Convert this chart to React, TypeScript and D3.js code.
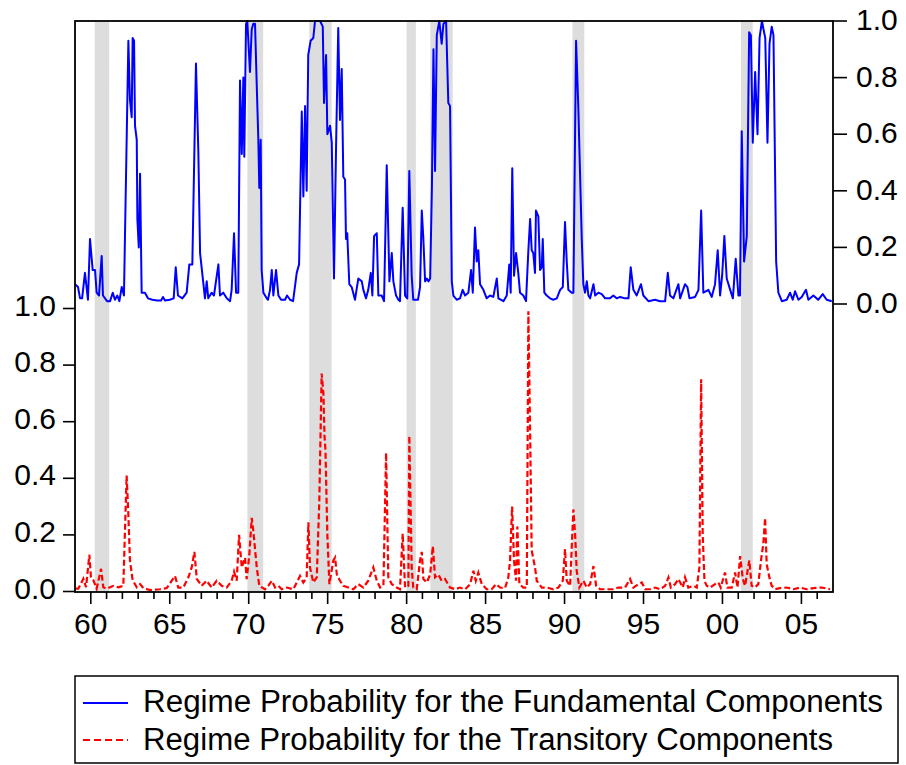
import * as d3 from "d3";

// regime probabilities, [decimal year, probability]
const fundamental: [number, number][] = [
  [1959.0,0.07],[1959.19,0.06],[1959.32,0.02],[1959.45,0.02],[1959.63,0.11],[1959.82,0.015],[1959.95,0.23],[1960.12,0.12],[1960.27,0.12],[1960.37,0.04],[1960.52,0.03],[1960.69,0.17],[1960.77,0.03],[1961.03,0.01],[1961.22,0.01],[1961.39,0.04],[1961.53,0.015],[1961.68,0.03],[1961.81,0.01],[1961.96,0.06],[1962.10,0.03],
  [1962.38,0.93],[1962.48,0.72],[1962.59,0.66],[1962.65,0.94],[1962.74,0.93],[1962.80,0.63],[1962.91,0.58],[1962.95,0.30],[1963.04,0.20],[1963.12,0.46],[1963.22,0.04],[1963.43,0.04],[1963.62,0.02],[1963.9,0.015],[1964.2,0.012],[1964.45,0.012],[1964.57,0.025],[1964.7,0.012],[1965.0,0.015],[1965.25,0.02],[1965.38,0.13],[1965.52,0.03],[1965.8,0.02],[1966.07,0.04],[1966.24,0.14],[1966.43,0.14],[1966.66,0.85],[1966.81,0.54],[1966.92,0.18],[1967.23,0.02],[1967.34,0.08],[1967.44,0.02],[1967.65,0.04],[1967.80,0.03],[1968.08,0.14],[1968.18,0.03],[1968.39,0.04],[1968.61,0.02],[1968.82,0.01],[1968.92,0.05],[1969.07,0.25],[1969.20,0.04],[1969.34,0.04],
  [1969.45,0.79],[1969.56,0.53],[1969.66,0.80],[1969.72,0.52],[1969.83,0.99],[1969.91,1.0],[1970.08,0.82],[1970.19,0.97],[1970.29,0.99],[1970.40,0.99],[1970.51,0.77],[1970.61,0.58],[1970.67,0.41],[1970.76,0.58],[1970.82,0.12],[1970.93,0.04],[1971.14,0.02],[1971.22,0.015],[1971.35,0.05],[1971.46,0.12],[1971.56,0.03],[1971.73,0.12],[1971.88,0.03],[1972.05,0.015],[1972.30,0.015],[1972.43,0.03],[1972.62,0.015],[1972.81,0.01],[1973.04,0.11],[1973.19,0.14],
  [1973.36,0.68],[1973.46,0.38],[1973.57,0.70],[1973.67,0.40],[1973.77,0.88],[1973.92,0.93],[1974.09,0.94],[1974.20,1.0],[1974.52,1.0],[1974.69,0.98],[1974.77,0.71],[1974.90,0.88],[1974.98,0.60],[1975.15,0.63],[1975.26,0.57],[1975.40,0.09],[1975.53,0.55],[1975.67,0.975],[1975.78,0.65],[1975.89,0.83],[1975.99,0.45],[1976.10,0.44],[1976.16,0.23],[1976.24,0.25],[1976.37,0.07],[1976.52,0.06],[1976.73,0.015],[1976.94,0.09],[1977.16,0.08],[1977.26,0.05],[1977.43,0.02],[1977.57,0.05],[1977.73,0.11],[1977.83,0.03],[1977.94,0.24],[1978.11,0.25],[1978.21,0.03],[1978.42,0.03],[1978.57,0.01],[1978.74,0.49],[1978.91,0.08],[1979.06,0.18],[1979.16,0.08],[1979.33,0.03],[1979.48,0.015],[1979.58,0.01],[1979.75,0.34],[1979.90,0.03],[1980.04,0.02],[1980.17,0.47],[1980.32,0.10],[1980.42,0.015],[1980.72,0.015],[1980.85,0.06],[1980.96,0.33],[1981.06,0.23],[1981.17,0.08],[1981.28,0.09],[1981.38,0.08],[1981.49,0.09],
  [1981.60,0.41],[1981.70,0.90],[1981.80,0.47],[1981.91,0.95],[1982.07,1.0],[1982.22,0.92],[1982.33,0.99],[1982.50,1.0],[1982.64,0.71],[1982.75,0.70],[1982.86,0.08],[1982.96,0.03],[1983.17,0.015],[1983.38,0.02],[1983.55,0.05],[1983.70,0.03],[1983.91,0.04],[1984.08,0.12],[1984.19,0.04],[1984.33,0.27],[1984.44,0.15],[1984.54,0.19],[1984.65,0.07],[1984.86,0.05],[1985.07,0.02],[1985.28,0.03],[1985.49,0.025],[1985.71,0.09],[1985.81,0.02],[1986.13,0.01],[1986.34,0.03],[1986.50,0.14],[1986.59,0.04],[1986.69,0.48],[1986.80,0.10],[1986.93,0.18],[1987.07,0.11],[1987.18,0.04],[1987.39,0.03],[1987.56,0.01],[1987.71,0.19],[1987.82,0.30],[1987.92,0.19],[1988.02,0.18],[1988.13,0.11],[1988.19,0.33],[1988.34,0.31],[1988.45,0.12],[1988.56,0.13],[1988.62,0.23],[1988.72,0.04],[1988.87,0.03],[1989.08,0.02],[1989.29,0.015],[1989.51,0.02],[1989.72,0.05],[1989.89,0.06],[1990.03,0.29],[1990.14,0.15],[1990.24,0.05],[1990.45,0.04],[1990.56,0.04],
  [1990.73,0.93],[1990.87,0.70],[1991.09,0.23],[1991.19,0.07],[1991.30,0.04],[1991.41,0.08],[1991.51,0.03],[1991.62,0.02],[1991.83,0.07],[1991.94,0.03],[1992.14,0.04],[1992.36,0.035],[1992.57,0.02],[1992.88,0.02],[1993.09,0.03],[1993.30,0.02],[1993.52,0.025],[1993.83,0.02],[1994.05,0.02],[1994.19,0.13],[1994.36,0.05],[1994.57,0.03],[1994.84,0.07],[1994.99,0.03],[1995.31,0.01],[1995.73,0.015],[1996.05,0.01],[1996.37,0.01],[1996.54,0.11],[1996.68,0.03],[1996.89,0.02],[1997.21,0.07],[1997.32,0.02],[1997.63,0.07],[1997.78,0.06],[1997.91,0.02],[1998.27,0.025],[1998.48,0.05],[1998.65,0.33],[1998.79,0.04],[1999.11,0.05],[1999.32,0.025],[1999.53,0.07],[1999.70,0.19],[1999.85,0.03],[1999.98,0.10],[2000.12,0.24],[2000.27,0.09],[2000.49,0.05],[2000.66,0.02],[2000.84,0.16],[2001.01,0.03],[2001.11,0.03],
  [2001.22,0.61],[2001.37,0.15],[2001.54,0.24],[2001.69,0.96],[2001.80,0.95],[2001.92,0.57],[2002.07,0.82],[2002.22,0.60],[2002.35,0.94],[2002.50,1.0],[2002.60,0.97],[2002.71,0.94],[2002.85,0.57],[2002.98,0.92],[2003.12,0.98],[2003.23,0.95],[2003.40,0.15],[2003.54,0.04],[2003.76,0.01],[2004.07,0.015],[2004.28,0.04],[2004.45,0.015],[2004.60,0.045],[2004.81,0.015],[2005.02,0.025],[2005.29,0.05],[2005.44,0.015],[2005.76,0.03],[2006.06,0.015],[2006.35,0.035],[2006.60,0.015],[2006.92,0.01],
];

const transitory: [number, number][] = [
  [1959.05,0.01],[1959.21,0.01],[1959.53,0.045],[1959.70,0.015],[1959.91,0.13],[1960.01,0.05],[1960.16,0.04],[1960.37,0.01],[1960.65,0.08],[1960.79,0.015],[1961.01,0.01],[1961.22,0.015],[1961.43,0.02],[1961.74,0.015],[1962.06,0.02],[1962.27,0.41],[1962.38,0.27],[1962.48,0.11],[1962.65,0.04],[1962.91,0.015],[1963.12,0.026],[1963.33,0.012],[1963.75,0.005],[1964.38,0.008],[1964.81,0.012],[1965.33,0.055],[1965.54,0.014],[1965.86,0.014],[1966.18,0.05],[1966.39,0.085],[1966.56,0.14],[1966.71,0.045],[1967.02,0.02],[1967.34,0.038],[1967.65,0.014],[1967.97,0.038],[1968.29,0.02],[1968.61,0.014],[1968.92,0.038],[1969.07,0.07],[1969.24,0.038],[1969.39,0.20],[1969.56,0.085],[1969.77,0.12],[1969.87,0.044],[1970.04,0.13],[1970.19,0.26],[1970.29,0.215],[1970.51,0.085],[1970.67,0.02],
  [1971.03,0.008],[1971.24,0.02],[1971.46,0.038],[1971.67,0.014],[1971.88,0.02],[1972.09,0.008],[1972.41,0.014],[1972.83,0.008],[1973.04,0.032],[1973.25,0.055],[1973.46,0.032],[1973.67,0.05],[1973.78,0.245],[1973.88,0.085],[1974.09,0.032],[1974.31,0.05],[1974.47,0.32],[1974.62,0.77],[1974.73,0.70],[1974.80,0.55],[1974.86,0.50],[1974.98,0.20],[1975.11,0.026],[1975.36,0.11],[1975.47,0.12],[1975.58,0.06],[1975.78,0.038],[1975.99,0.02],[1976.31,0.014],[1976.62,0.008],[1976.94,0.026],[1977.26,0.014],[1977.57,0.038],[1977.89,0.085],[1978.11,0.038],[1978.32,0.014],[1978.53,0.02],[1978.70,0.49],[1978.84,0.05],[1979.06,0.026],[1979.37,0.014],[1979.58,0.008],[1979.75,0.205],[1979.90,0.014],[1980.11,0.02],[1980.17,0.55],[1980.32,0.085],[1980.42,0.014],[1980.64,0.008],[1980.85,0.11],[1980.96,0.14],[1981.06,0.044],[1981.28,0.032],[1981.49,0.06],[1981.66,0.16],[1981.80,0.05],[1982.01,0.06],[1982.22,0.038],[1982.43,0.044],[1982.75,0.014],
  [1983.07,0.008],[1983.38,0.014],[1983.70,0.008],[1984.02,0.026],[1984.23,0.073],[1984.38,0.038],[1984.54,0.067],[1984.76,0.026],[1985.07,0.008],[1985.39,0.008],[1985.66,0.026],[1985.92,0.014],[1986.23,0.012],[1986.44,0.05],[1986.55,0.11],[1986.68,0.30],[1986.80,0.11],[1986.93,0.038],[1987.01,0.23],[1987.14,0.026],[1987.39,0.014],[1987.61,0.014],[1987.71,0.99],[1987.82,0.56],[1987.92,0.145],[1988.13,0.085],[1988.24,0.038],[1988.56,0.014],[1988.87,0.014],[1989.29,0.008],[1989.61,0.014],[1989.89,0.038],[1990.03,0.15],[1990.14,0.038],[1990.35,0.02],[1990.56,0.29],[1990.67,0.20],[1990.77,0.073],[1990.94,0.014],[1991.19,0.038],[1991.41,0.014],[1991.62,0.026],[1991.83,0.09],[1992.00,0.02],[1992.25,0.008],[1992.67,0.008],[1993.09,0.008],[1993.41,0.014],[1993.83,0.014],[1994.15,0.044],[1994.36,0.014],[1994.68,0.026],[1994.89,0.032],[1995.10,0.008],[1995.42,0.008],[1995.73,0.014],[1996.05,0.008],[1996.37,0.02],[1996.58,0.05],[1996.73,0.014],[1997.00,0.026],[1997.21,0.044],[1997.49,0.014],[1997.63,0.05],[1997.84,0.014],[1998.16,0.02],[1998.37,0.014],
  [1998.54,0.085],[1998.65,0.75],[1998.75,0.20],[1998.86,0.038],[1999.01,0.02],[1999.22,0.014],[1999.53,0.026],[1999.74,0.032],[1999.89,0.014],[2000.16,0.067],[2000.31,0.014],[2000.59,0.014],[2000.80,0.067],[2000.95,0.014],[2001.12,0.125],[2001.29,0.044],[2001.43,0.02],[2001.70,0.11],[2001.85,0.02],[2002.06,0.014],[2002.27,0.026],[2002.44,0.11],[2002.59,0.17],[2002.70,0.26],[2002.80,0.097],[2002.97,0.05],[2003.12,0.02],[2003.33,0.008],[2003.65,0.012],[2004.07,0.014],[2004.49,0.008],[2004.91,0.014],[2005.33,0.008],[2005.76,0.012],[2006.29,0.014],[2006.81,0.008],
];

// NBER recessions (peak month, trough month)
const recessionStart = [1960.25, 1969.917, 1973.833, 1980.0, 1981.5, 1990.5, 2001.167];
const recessionEnd = [1961.083, 1970.833, 1975.167, 1980.5, 1982.833, 1991.167, 2001.833];

const xMajorTicks = [1960, 1965, 1970, 1975, 1980, 1985, 1990, 1995, 2000, 2005];
const probTicks = [0, 0.2, 0.4, 0.6, 0.8, 1.0];
const legendLabels = [
  "Regime Probability for the Fundamental Components",
  "Regime Probability for the Transitory Components",
];

const width = 906;
const height = 765;
const left = 75;
const right = 833;
const top = 21;
const bottom = 592;
const font = "'Liberation Sans', Arial, sans-serif";

export default function App() {
  const x = d3.scaleLinear([1959, 2007], [left, right]);
  const yTop = d3.scaleLinear([0, 1], [304, 21]);
  const yBot = d3.scaleLinear([0, 1], [591.5, 308.5]);

  const lineTop = d3
    .line<[number, number]>()
    .x((d) => x(d[0]))
    .y((d) => yTop(d[1]));
  const lineBot = d3
    .line<[number, number]>()
    .x((d) => x(d[0]))
    .y((d) => yBot(d[1]));

  const minorTicks = d3.range(1960, 2007);

  return (
    <svg
      width={width}
      height={height}
      style={{ position: "absolute", left: 0, top: 0, background: "#fff" }}
      fontFamily={font}
    >
      {/* recession shading */}
      <g fill="#dddddd">
        {recessionStart.map((s, i) => (
          <rect
            key={i}
            x={x(s)}
            y={top}
            width={x(recessionEnd[i] + 1 / 12) - x(s)}
            height={bottom - top}
          />
        ))}
      </g>

      <path d={lineTop(fundamental) || ""} fill="none" stroke="#0000ff" strokeWidth={2} strokeLinejoin="round" />
      <path d={lineBot(transitory) || ""} fill="none" stroke="#ff0000" strokeWidth={2.2} strokeDasharray="6,3" />

      {/* frame */}
      <rect x={left} y={top} width={right - left} height={bottom - top} fill="none" stroke="#000" strokeWidth={1.8} />

      {/* bottom axis */}
      <g stroke="#000" strokeWidth={1.6}>
        {minorTicks.map((yr) => (
          <line key={yr} x1={x(yr)} x2={x(yr)} y1={bottom} y2={bottom + (yr % 5 === 0 ? 12 : 7)} />
        ))}
      </g>
      <g fontSize={30} textAnchor="middle">
        {xMajorTicks.map((yr) => (
          <text key={yr} x={x(yr)} y={634}>
            {String(yr % 100).padStart(2, "0")}
          </text>
        ))}
      </g>

      {/* left axis: transitory */}
      <g stroke="#000" strokeWidth={1.6}>
        {probTicks.map((t) => (
          <line key={t} x1={left - 12} x2={left} y1={yBot(t)} y2={yBot(t)} />
        ))}
      </g>
      <g fontSize={30} textAnchor="end">
        {probTicks.map((t) => (
          <text key={t} x={56} y={yBot(t) + 7}>
            {t.toFixed(1)}
          </text>
        ))}
      </g>

      {/* right axis: fundamental */}
      <g stroke="#000" strokeWidth={1.6}>
        {probTicks.map((t) => (
          <line key={t} x1={right} x2={right + 14} y1={yTop(t)} y2={yTop(t)} />
        ))}
      </g>
      <g fontSize={30} textAnchor="start">
        {probTicks.map((t) => (
          <text key={t} x={856} y={yTop(t) + 9}>
            {t.toFixed(1)}
          </text>
        ))}
      </g>

      {/* legend */}
      <rect x={75} y={676} width={823} height={87} fill="#fff" stroke="#000" strokeWidth={1.5} />
      <line x1={83} x2={128} y1={703} y2={703} stroke="#0000ff" strokeWidth={2} />
      <line x1={83} x2={128} y1={740} y2={740} stroke="#ff0000" strokeWidth={2.2} strokeDasharray="7,4" />
      <text x={143} y={712} fontSize={31} textLength={740} lengthAdjust="spacingAndGlyphs">
        {legendLabels[0]}
      </text>
      <text x={143} y={750} fontSize={31} textLength={690} lengthAdjust="spacingAndGlyphs">
        {legendLabels[1]}
      </text>
    </svg>
  );
}
